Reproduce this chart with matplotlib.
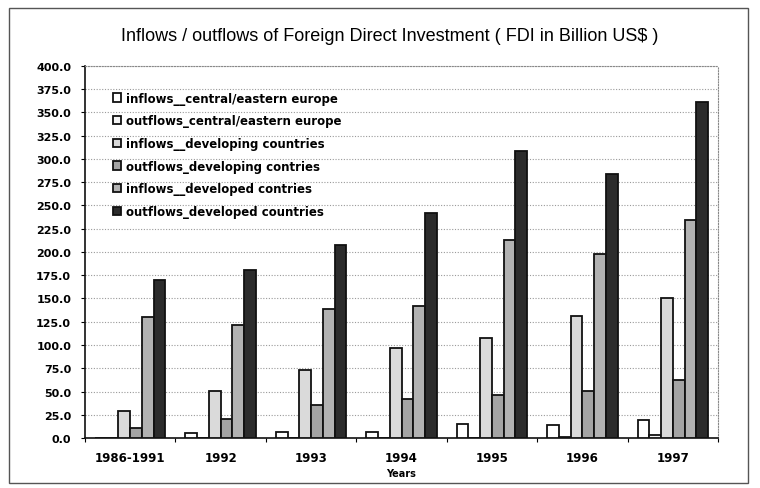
import matplotlib
matplotlib.use("Agg")
import matplotlib.pyplot as plt
from matplotlib.patches import Rectangle
from matplotlib.font_manager import FontProperties
import numpy as np

years = ["1986-1991", "1992", "1993", "1994", "1995", "1996", "1997"]

series_names = [
    "inflows__central/eastern europe",
    "outflows_central/eastern europe",
    "inflows__developing countries",
    "outflows_developing contries",
    "inflows__developed contries",
    "outflows_developed countries",
]

inflows_cee = [0.0, 5.2, 6.8, 6.5, 15.0, 14.0, 19.0]
outflows_cee = [0.0, 0.1, 0.2, 0.5, 0.3, 1.5, 3.5]
inflows_developing = [29.0, 51.0, 73.0, 97.0, 107.0, 131.0, 151.0]
outflows_developing = [11.0, 20.0, 35.5, 42.0, 46.0, 51.0, 62.0]
inflows_developed = [130.0, 121.0, 139.0, 142.0, 213.0, 198.0, 234.0]
outflows_developed = [170.0, 181.0, 207.0, 242.0, 308.0, 284.0, 361.0]

series_values = [inflows_cee, outflows_cee, inflows_developing,
                 outflows_developing, inflows_developed, outflows_developed]
fills = ["#ffffff", "#f4f4f4", "#dadada", "#a4a4a4", "#b2b2b2", "#2c2c2c"]

fig = plt.figure(figsize=(7.6, 4.89), dpi=100)
fig.patch.set_facecolor("white")

# outer chart frame
fig.patches.append(Rectangle((0.012, 0.01), 0.972, 0.972, transform=fig.transFigure,
                             fill=False, edgecolor="#555555", linewidth=1.0))

ax = fig.add_axes([0.1118, 0.1022, 0.833, 0.761])

x = np.arange(len(years))
bw = 0.13
for j, (vals, fc) in enumerate(zip(series_values, fills)):
    ax.bar(x + (j - 2.5) * bw, vals, width=bw, color=fc, edgecolor="#111111",
           linewidth=1.3, label=series_names[j], zorder=3)

ax.set_xlim(-0.5, len(years) - 0.5)
ax.set_ylim(0, 400)
yt = np.arange(0, 401, 25)
ax.set_yticks(yt)
ax.set_yticklabels([f"{v:.1f}" for v in yt])
ax.set_xticks(x)
ax.set_xticklabels(years)
ax.set_xticks(np.arange(-0.5, len(years), 1.0), minor=True)

ax.yaxis.grid(True, linestyle=(0, (1, 1.5)), color="#9a9a9a", linewidth=0.8, zorder=0)
ax.set_axisbelow(True)

for side in ["top", "right"]:
    ax.spines[side].set_linestyle((0, (1, 1.5)))
    ax.spines[side].set_color("#888888")
    ax.spines[side].set_linewidth(0.8)
for side in ["left", "bottom"]:
    ax.spines[side].set_color("#111111")
    ax.spines[side].set_linewidth(1.2)

ytick_fp = FontProperties(family="DejaVu Sans", weight="bold", size=8)
xtick_fp = FontProperties(family="DejaVu Sans", weight="bold", size=8.5)
for lbl in ax.get_yticklabels():
    lbl.set_fontproperties(ytick_fp)
for lbl in ax.get_xticklabels():
    lbl.set_fontproperties(xtick_fp)
ax.tick_params(axis="y", direction="out", length=3, width=0.8, pad=7)
ax.tick_params(axis="x", which="major", length=0, pad=9)
ax.tick_params(axis="x", which="minor", direction="out", length=3, width=0.8)

ax.set_xlabel("Years", fontfamily="DejaVu Sans", fontweight="bold", fontsize=7, labelpad=3)

fig.text(0.513, 0.925, "Inflows / outflows of Foreign Direct Investment ( FDI in Billion US$ )",
         ha="center", va="center", fontfamily="Liberation Sans", fontsize=13)

leg = ax.legend(loc="upper left", bbox_to_anchor=(0.033, 0.95), frameon=False,
                prop=dict(family="DejaVu Sans", weight="bold", size=8.5),
                handlelength=0.7, handleheight=0.7, handletextpad=0.4,
                labelspacing=0.82, borderaxespad=0.2)

fig.savefig("out.png", dpi=100, facecolor="white")
